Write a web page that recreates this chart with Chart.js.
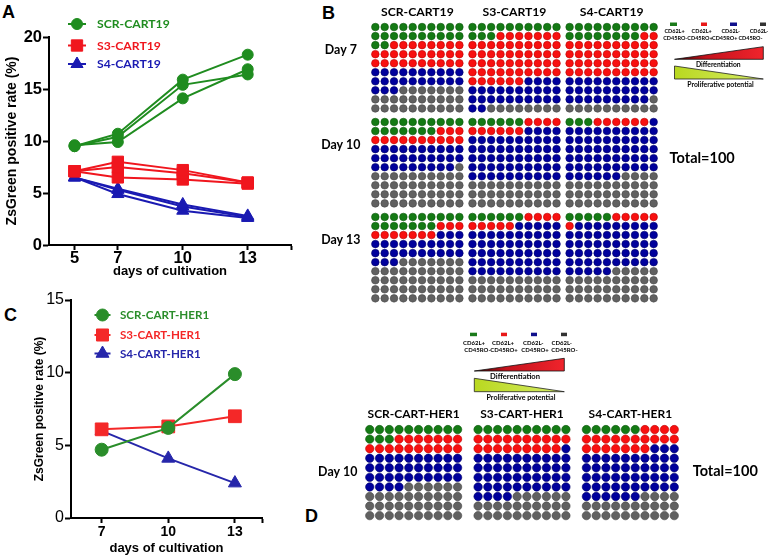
<!DOCTYPE html>
<html>
<head>
<meta charset="utf-8">
<title>ZsGreen positive rate and T cell subsets</title>
<script src="https://cdn.jsdelivr.net/npm/chart.js@4.4.1/dist/chart.umd.min.js"></script>
<style>
  html, body { margin: 0; padding: 0; background: #fff; }
  body { position: relative; width: 778px; height: 557px; overflow: hidden; }
  canvas { position: absolute; }
  .letter { position: absolute; font: bold 18px 'Liberation Sans', Arial, sans-serif; line-height: 18px; color: #000; }
  #keys { position: absolute; left: 0; top: 0; }
  #keys text { font-family: Lato, 'Open Sans', sans-serif; font-weight: bold; fill: #000; text-anchor: middle; dominant-baseline: central; }
</style>
</head>
<body>
<div class="letter" style="left:2px;top:3px">A</div>
<div class="letter" style="left:322px;top:4px">B</div>
<div class="letter" style="left:4px;top:306px">C</div>
<div class="letter" style="left:305px;top:507px">D</div>

<canvas id="chartA" width="300" height="285" style="left:0;top:0"></canvas>
<canvas id="chartB" width="478" height="312" style="left:300px;top:0"></canvas>
<canvas id="chartC" width="300" height="267" style="left:0;top:290px"></canvas>
<canvas id="chartD" width="478" height="130" style="left:300px;top:400px"></canvas>

<svg id="keys" width="778" height="557">
  <defs>
    <linearGradient id="redRamp" x1="0" x2="1" y1="0" y2="0">
      <stop offset="0" stop-color="#3a0000"/>
      <stop offset="0.35" stop-color="#c4121c"/>
      <stop offset="1" stop-color="#f0242c"/>
    </linearGradient>
    <linearGradient id="limeRamp" x1="0" x2="1" y1="0" y2="0">
      <stop offset="0" stop-color="#b9d820"/>
      <stop offset="1" stop-color="#d6ec66"/>
    </linearGradient>
  </defs>
  <!-- legend of panel B -->
  <rect x="670" y="22.5" width="7" height="3.5" fill="#1a7a1a"/>
  <rect x="701" y="22.5" width="6" height="3.5" fill="#e81818"/>
  <rect x="730" y="22.5" width="7" height="3.5" fill="#10108c"/>
  <rect x="760" y="22.5" width="6" height="3.5" fill="#333"/>
  <text x="674.5" y="31" font-size="5.5">CD62L+</text>
  <text x="701.7" y="31" font-size="5.5">CD62L+</text>
  <text x="730.8" y="31" font-size="5.5">CD62L-</text>
  <text x="759" y="31" font-size="5.5">CD62L-</text>
  <text x="675.3" y="37.5" font-size="5.5">CD45RO-</text>
  <text x="700" y="37.5" font-size="5.5">CD45RO+</text>
  <text x="724.7" y="37.5" font-size="5.5">CD45RO+</text>
  <text x="750.5" y="37.5" font-size="5.5">CD45RO-</text>
  <polygon points="674.5,59.3 763.3,46.7 763.3,59.3" fill="url(#redRamp)" stroke="#111" stroke-width="0.8"/>
  <text x="718.3" y="63.6" font-size="6.8">Differentiation</text>
  <polygon points="674.5,66 674.5,79 763.3,79" fill="url(#limeRamp)" stroke="#222" stroke-width="0.8"/>
  <text x="720.5" y="84.3" font-size="6.85">Proliferative potential</text>
  <!-- legend of panel D -->
  <rect x="470" y="332.7" width="7" height="3.5" fill="#1a7a1a"/>
  <rect x="501" y="332.7" width="6" height="3.5" fill="#e81818"/>
  <rect x="531" y="332.7" width="6" height="3.5" fill="#10108c"/>
  <rect x="561" y="332.7" width="6" height="3.5" fill="#333"/>
  <text x="474" y="342.3" font-size="6">CD62L+</text>
  <text x="503" y="342.3" font-size="6">CD62L+</text>
  <text x="533.3" y="342.3" font-size="6">CD62L-</text>
  <text x="561.7" y="342.3" font-size="6">CD62L-</text>
  <text x="477.5" y="349.3" font-size="6">CD45RO-</text>
  <text x="504" y="349.3" font-size="6">CD45RO+</text>
  <text x="535" y="349.3" font-size="6">CD45RO+</text>
  <text x="564.5" y="349.3" font-size="6">CD45RO-</text>
  <polygon points="474.3,371 564.3,358.3 564.3,371" fill="url(#redRamp)" stroke="#111" stroke-width="0.8"/>
  <text x="515" y="376.2" font-size="7.6">Differentiation</text>
  <polygon points="474.3,378.3 474.3,391.7 564.3,391.7" fill="url(#limeRamp)" stroke="#222" stroke-width="0.8"/>
  <text x="521" y="397.4" font-size="7.1">Proliferative potential</text>
</svg>

<script>
const axisFont = "'Liberation Sans', Arial, sans-serif";
const textFont = "Lato, 'Open Sans', sans-serif";

// Panel A: CART19, three replicates per construct
const daysA = [5, 7, 10, 13];
const scrCart19 = [[9.5, 10.7, 15.9, 18.3], [9.5, 10.4, 15.4, 16.4], [9.6, 9.9, 14.1, 16.9]];
const s3Cart19 = [[7.1, 8.0, 7.2, 6.0], [7.1, 7.5, 6.9, 6.0], [7.1, 6.5, 6.3, 5.9]];
const s4Cart19 = [[6.5, 5.4, 3.9, 2.8], [6.5, 5.3, 3.7, 2.7], [6.5, 4.9, 3.3, 2.6]];
const ticksA = [0, 5, 10, 15, 20];

// Panel C: CART-HER1
const daysC = [7, 10, 13];
const scrHer1 = [4.7, 6.2, 9.9];
const s3Her1 = [6.1, 6.3, 7.0];
const s4Her1 = [6.0, 4.1, 2.4];
const ticksC = [0, 5, 10, 15];

// Panels B and D: cells per 100, order = green, red, blue, grey
const cellNames = ['CD62L+CD45RO-', 'CD62L+CD45RO+', 'CD62L-CD45RO+', 'CD62L-CD45RO-'];
const cellColors = ['#147a14', '#f81010', '#00009c', '#616161'];
const cellEdges = ['#0b550b', '#b80000', '#000068', '#464646'];
const groupsB = ['SCR-CART19', 'S3-CART19', 'S4-CART19'];
const daysB = ['Day 7', 'Day 10', 'Day 13'];
const day7Cells = [[22, 28, 23, 27], [13, 53, 26, 8], [18, 42, 29, 11]];
const day10Cells = [[17, 13, 29, 41], [6, 10, 54, 30], [3, 6, 57, 34]];
const day13Cells = [[17, 10, 26, 47], [6, 9, 55, 30], [5, 6, 54, 35]];
const groupsD = ['SCR-CART-HER1', 'S3-CART-HER1', 'S4-CART-HER1'];
const daysD = ['Day 10'];
const her1Day10Cells = [[13, 17, 34, 36], [10, 19, 45, 26], [6, 21, 49, 24]];

const green = '#1f8c1f', red = '#f0161e', blue = '#1a1ab2';
const greenC = '#2a8d2a', redC = '#f42828', blueC = '#2626aa';

function drawMarker(ctx, style, x, y, r, color) {
    ctx.fillStyle = color;
    ctx.strokeStyle = color;
    ctx.lineWidth = 1;
    ctx.beginPath();
    if (style === 'rect') {
        const s = r * Math.SQRT1_2;
        ctx.rect(x - s, y - s, 2 * s, 2 * s);
    } else if (style === 'triangle') {
        let a = 0;
        ctx.moveTo(x + Math.sin(a) * r, y - Math.cos(a) * r);
        a += Math.PI * 2 / 3;
        ctx.lineTo(x + Math.sin(a) * r, y - Math.cos(a) * r);
        a += Math.PI * 2 / 3;
        ctx.lineTo(x + Math.sin(a) * r, y - Math.cos(a) * r);
        ctx.closePath();
    } else {
        ctx.arc(x, y, r, 0, Math.PI * 2);
    }
    ctx.fill();
    ctx.stroke();
}

// legend drawn inside the plot, Prism style (line + marker + coloured text)
function seriesKey(items) {
    return {
        id: 'seriesKey',
        afterDatasetsDraw(chart) {
            const ctx = chart.ctx;
            ctx.save();
            items.forEach(it => {
                ctx.strokeStyle = it.color;
                ctx.lineWidth = 2;
                ctx.beginPath();
                ctx.moveTo(it.x - it.half, it.y);
                ctx.lineTo(it.x + it.half, it.y);
                ctx.stroke();
                drawMarker(ctx, it.style, it.x, it.y, it.radius, it.color);
                ctx.fillStyle = it.color;
                ctx.font = it.font;
                ctx.textAlign = 'left';
                ctx.textBaseline = 'middle';
                ctx.fillText(it.name, it.textX, it.y + 0.5);
            });
            ctx.restore();
        }
    };
}

function lineSet(name, days, values, color, style, radius) {
    return {
        label: name,
        data: values.map((v, i) => ({ x: days[i], y: v })),
        borderColor: color,
        backgroundColor: color,
        pointBackgroundColor: color,
        pointBorderColor: color,
        pointStyle: style,
        pointRadius: radius,
        pointBorderWidth: 1,
        borderWidth: 2,
        tension: 0,
        clip: false
    };
}

function axisX(min, max, days, tickFont, title, height, tickPad, titlePad) {
    return {
        type: 'linear', min: min, max: max,
        afterBuildTicks: s => { s.ticks = days.concat([max]).map(v => ({ value: v })); },
        ticks: { color: '#000', font: tickFont, padding: tickPad, autoSkip: false, maxRotation: 0,
                 callback: v => days.includes(v) ? String(v) : '' },
        grid: { drawOnChartArea: false, color: '#000', tickColor: '#000', tickLength: 5, tickWidth: 2 },
        border: { color: '#000', width: 2 },
        title: { display: true, text: title.text, color: '#000', font: title.font, padding: { top: 0, bottom: titlePad } },
        afterFit: s => { s.height = height; }
    };
}

function axisY(max, ticks, tickFont, title, width, titlePad) {
    return {
        type: 'linear', min: 0, max: max,
        afterBuildTicks: s => { s.ticks = ticks.map(v => ({ value: v })); },
        ticks: { color: '#000', font: tickFont, padding: 1 },
        grid: { drawOnChartArea: false, color: '#000', tickColor: '#000', tickLength: 6, tickWidth: 2 },
        border: { color: '#000', width: 2 },
        title: { display: true, text: title.text, color: '#000', font: title.font, padding: { top: titlePad, bottom: 0 } },
        afterFit: s => { s.width = width; }
    };
}

const baseOptions = {
    responsive: false,
    animation: false,
    events: [],
    plugins: { legend: { display: false }, tooltip: { enabled: false } }
};

// ---- Panel A ----
const setsA = [];
scrCart19.forEach(r => setsA.push(lineSet('SCR-CART19', daysA, r, green, 'circle', 5.5)));
s3Cart19.forEach(r => setsA.push(lineSet('S3-CART19', daysA, r, red, 'rect', 8)));
s4Cart19.forEach(r => setsA.push(lineSet('S4-CART19', daysA, r, blue, 'triangle', 7)));

new Chart(document.getElementById('chartA'), {
    type: 'line',
    data: { datasets: setsA },
    options: Object.assign({}, baseOptions, {
        layout: { padding: { top: 37, right: 5, left: 0, bottom: 0 } },
        scales: {
            x: axisX(3.82, 15, daysA, { family: axisFont, size: 16.5, weight: 'bold', lineHeight: 1 },
                     { text: 'days of cultivation', font: { family: axisFont, size: 13, weight: 'bold' } }, 40, 0, 6),
            y: axisY(20, ticksA, { family: axisFont, size: 16.5, weight: 'bold', lineHeight: 1 },
                     { text: 'ZsGreen positive rate (%)', font: { family: axisFont, size: 14, weight: 'bold' } }, 49, 4)
        }
    }),
    plugins: [seriesKey([
        { name: 'SCR-CART19', color: green, style: 'circle', radius: 5.5, x: 77, y: 24, half: 9, textX: 97, font: 'bold 12.2px ' + textFont },
        { name: 'S3-CART19', color: red, style: 'rect', radius: 8, x: 77, y: 45.5, half: 9, textX: 97, font: 'bold 12.2px ' + textFont },
        { name: 'S4-CART19', color: blue, style: 'triangle', radius: 7, x: 77, y: 64, half: 9, textX: 97, font: 'bold 12.2px ' + textFont }
    ])]
});

// ---- Panel C ----
new Chart(document.getElementById('chartC'), {
    type: 'line',
    data: { datasets: [
        lineSet('SCR-CART-HER1', daysC, scrHer1, greenC, 'circle', 6.5),
        lineSet('S3-CART-HER1', daysC, s3Her1, redC, 'rect', 9),
        lineSet('S4-CART-HER1', daysC, s4Her1, blueC, 'triangle', 7.5)
    ] },
    options: Object.assign({}, baseOptions, {
        layout: { padding: { top: 10, right: 38, left: 0, bottom: 0 } },
        scales: {
            x: axisX(5.62, 14.22, daysC, { family: axisFont, size: 14, weight: 'bold', lineHeight: 1 },
                     { text: 'days of cultivation', font: { family: axisFont, size: 13, weight: 'bold' } }, 39, 2, 1),
            y: axisY(15, ticksC, { family: axisFont, size: 16, lineHeight: 1 },
                     { text: 'ZsGreen positive rate (%)', font: { family: axisFont, size: 12, weight: 'bold' } }, 71, 32)
        }
    }),
    plugins: [seriesKey([
        { name: 'SCR-CART-HER1', color: greenC, style: 'circle', radius: 6, x: 102.5, y: 25, half: 8, textX: 120, font: 'bold 11.6px ' + textFont },
        { name: 'S3-CART-HER1', color: redC, style: 'rect', radius: 8.5, x: 102.5, y: 45, half: 8, textX: 120, font: 'bold 11.6px ' + textFont },
        { name: 'S4-CART-HER1', color: blueC, style: 'triangle', radius: 7.5, x: 102.5, y: 63.5, half: 8, textX: 120, font: 'bold 11.6px ' + textFont }
    ])]
});

// ---- Panels B and D: 10x10 dot grids ----
function cellSets(table, stepX, stepY) {
    const sets = cellColors.map(() => []);
    table.forEach((groupCells, d) => {
        groupCells.forEach((counts, b) => {
            let k = 0;
            counts.forEach((n, cat) => {
                for (let j = 0; j < n; j++, k++) {
                    sets[cat].push({ x: b * stepX + k % 10, y: d * stepY + Math.floor(k / 10) });
                }
            });
        });
    });
    return sets;
}

function gridLabels(groups, days, cfg) {
    return {
        id: 'gridLabels',
        afterDraw(chart) {
            const { ctx, scales: { x, y } } = chart;
            ctx.save();
            ctx.fillStyle = '#000';
            ctx.textAlign = 'center';
            ctx.textBaseline = 'middle';
            ctx.font = 'bold ' + cfg.titleSize + 'px ' + textFont;
            groups.forEach((g, b) => ctx.fillText(g, x.getPixelForValue(b * cfg.stepX + 4.5), y.getPixelForValue(0) - 15));
            ctx.font = 'bold ' + cfg.daySize + 'px ' + textFont;
            days.forEach((d, i) => ctx.fillText(d, x.getPixelForValue(0) - cfg.dayDx, y.getPixelForValue(i * cfg.stepY + cfg.dayRow)));
            ctx.font = 'bold 14.5px ' + textFont;
            ctx.fillText('Total=100', x.getPixelForValue(2 * cfg.stepX + 9) + cfg.totalDx, y.getPixelForValue(cfg.totalRow));
            ctx.restore();
        }
    };
}

function gridChart(id, table, cfg, groups, days) {
    const sets = cellSets(table, cfg.stepX, cfg.stepY);
    return new Chart(document.getElementById(id), {
        type: 'scatter',
        data: { datasets: sets.map((pts, c) => ({
            label: cellNames[c],
            data: pts,
            pointBackgroundColor: cellColors[c],
            pointBorderColor: cellEdges[c],
            pointBorderWidth: 0.6,
            pointRadius: cfg.radius,
            clip: false
        })) },
        options: Object.assign({}, baseOptions, {
            layout: { padding: cfg.padding },
            scales: {
                x: { type: 'linear', display: false, min: -1, max: cfg.xMax },
                y: { type: 'linear', display: false, reverse: true, min: -1, max: cfg.yMax }
            }
        }),
        plugins: [gridLabels(groups, days, cfg)]
    });
}

gridChart('chartB', [day7Cells, day10Cells, day13Cells], {
    stepX: 10.4, stepY: 10.5, xMax: 30.8, yMax: 31, radius: 3.8,
    padding: { left: 66, right: 115, top: 18, bottom: 1 },
    titleSize: 12.2, daySize: 12.4, dayDx: 34.5, dayRow: 2.5, totalDx: 48.5, totalRow: 14.5
}, groupsB, daysB);

gridChart('chartD', [her1Day10Cells], {
    stepX: 11.1, stepY: 0, xMax: 32.2, yMax: 10, radius: 4.2,
    padding: { left: 60, right: 94, top: 20, bottom: 2 },
    titleSize: 12, daySize: 12.4, dayDx: 32, dayRow: 4.4, totalDx: 51, totalRow: 4.4
}, groupsD, daysD);
</script>
</body>
</html>
